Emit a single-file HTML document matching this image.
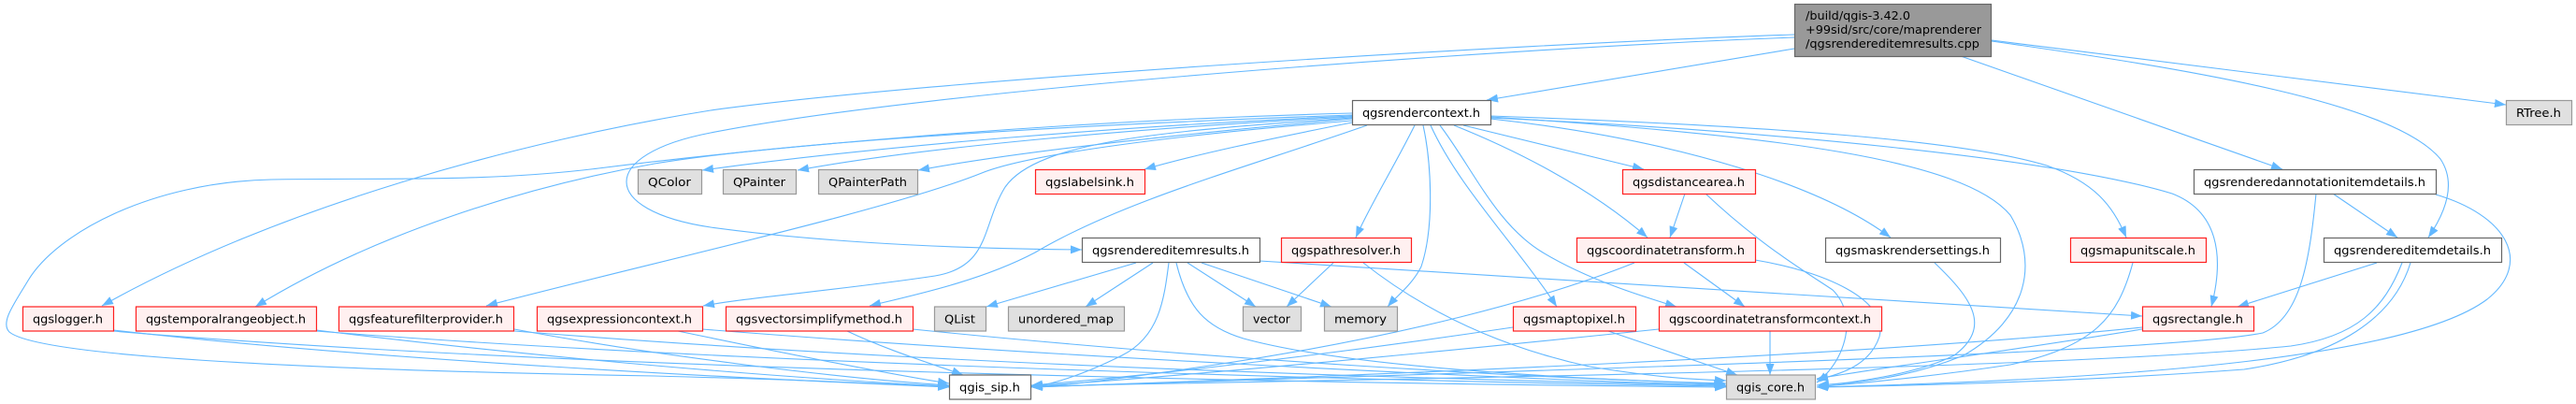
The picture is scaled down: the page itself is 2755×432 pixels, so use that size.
<!DOCTYPE html>
<html><head><meta charset="utf-8"><style>
html,body{margin:0;padding:0;background:#fff;}
svg{display:block;}
text{font-family:"DejaVu Sans","Liberation Sans",sans-serif;font-size:12.8px;fill:#000;}
.e{fill:none;stroke:#63b8ff;stroke-width:1.1;marker-end:url(#a);}
.w{fill:#fff;stroke:#666;stroke-width:1.2;}
.g{fill:#e0e0e0;stroke:#999;stroke-width:1.2;}
.r{fill:#fff0f0;stroke:#ff2020;stroke-width:1.2;}
</style></head><body>
<svg width="2755" height="432" viewBox="0 0 2755 432" xmlns="http://www.w3.org/2000/svg">
<defs><marker id="a" markerUnits="userSpaceOnUse" markerWidth="12" markerHeight="9" refX="12" refY="4.5" orient="auto"><path d="M0,0 L12,4.5 L0,9 z" fill="#63b8ff"/></marker></defs>
<rect width="2755" height="432" fill="#fff"/>
<g>
<!-- root edges -->
<path class="e" d="M1919,52 L1590,107"/>
<path class="e" d="M1919,37 C1600,48 1000,85 760,118 C560,150 300,220 109,327"/>
<path class="e" d="M1919,40 C1600,52 1000,95 760,142 C640,165 640,225 760,243 C900,262 1050,266 1157,267"/>
<path class="e" d="M2097,60 L2441,181"/>
<path class="e" d="M2130,44 C2350,75 2560,110 2610,170 C2630,200 2610,235 2597,254"/>
<path class="e" d="M2130,43 L2680,112"/>
<!-- qgsrendercontext edges -->
<path class="e" d="M1446,124 C1200,135 950,155 751,182"/>
<path class="e" d="M1446,125 C1250,135 1000,155 853,182"/>
<path class="e" d="M1446,127 C1300,140 1100,160 982,182"/>
<path class="e" d="M1446,131 C1350,150 1280,165 1224,181"/>
<path class="e" d="M1446,121 C1100,130 800,160 640,180 C520,195 400,190 290,192 C160,195 60,250 30,300 C15,325 0,345 10,355 C40,380 300,395 700,402 C850,406 950,410 1015,414"/>
<path class="e" d="M1446,123 C1100,135 820,155 700,175 C560,200 400,250 273,328"/>
<path class="e" d="M1446,129 C1250,145 1100,165 1050,185 C950,225 700,280 520,327"/>
<path class="e" d="M1446,126 C1250,140 1110,150 1075,200 C1050,240 1060,285 1000,295 C900,310 800,318 752,327"/>
<path class="e" d="M1462,134 C1330,180 1200,215 1107,270 C1050,300 980,315 930,327"/>
<path class="e" d="M1513,134 C1490,180 1465,220 1450,254"/>
<path class="e" d="M1522,134 C1530,170 1535,240 1520,285 C1510,305 1495,315 1484,328"/>
<path class="e" d="M1530,134 C1560,200 1620,260 1665,328"/>
<path class="e" d="M1540,134 C1575,180 1600,240 1650,270 C1700,300 1760,318 1793,328"/>
<path class="e" d="M1555,134 C1620,160 1700,200 1762,254"/>
<path class="e" d="M1565,134 L1758,181"/>
<path class="e" d="M1594,127 C1800,150 1950,200 2022,254"/>
<path class="e" d="M1594,125 C1900,145 2100,170 2150,230 C2180,280 2170,340 2100,380 C2040,405 1980,410 1944,412"/>
<path class="e" d="M1594,124 C1900,135 2100,150 2189,177 C2240,195 2260,220 2274,254"/>
<path class="e" d="M1594,126 C1900,140 2200,170 2323,207 C2370,225 2380,270 2365,328"/>
<!-- qgsrendereditemresults edges -->
<path class="e" d="M1215,281 L1055,328"/>
<path class="e" d="M1233,281 L1161,328"/>
<path class="e" d="M1250,281 C1245,320 1240,360 1200,380 C1160,400 1130,410 1103,414"/>
<path class="e" d="M1258,281 C1270,330 1290,350 1330,362 C1450,395 1700,405 1845,411"/>
<path class="e" d="M1270,281 L1343,328"/>
<path class="e" d="M1285,281 L1424,328"/>
<path class="e" d="M1347,279 C1600,295 2000,320 2291,338"/>
<!-- qgspathresolver -->
<path class="e" d="M1426,281 L1376,328"/>
<path class="e" d="M1458,281 C1520,330 1600,370 1700,392 C1780,405 1820,406 1846,407"/>
<!-- qgsdistancearea -->
<path class="e" d="M1802,207 L1786,254"/>
<path class="e" d="M1824,207 C1880,260 1930,290 1960,310 C1990,340 1970,390 1943,409"/>
<!-- qgscoordinatetransform -->
<path class="e" d="M1748,281 C1650,320 1500,360 1300,390 C1200,405 1140,412 1103,414"/>
<path class="e" d="M1801,281 L1866,328"/>
<path class="e" d="M1877,278 C1950,290 2020,320 2010,360 C2000,390 1970,400 1943,406"/>
<!-- qgsmaskrendersettings -->
<path class="e" d="M2069,281 C2110,320 2130,350 2090,380 C2050,400 1980,410 1943,412"/>
<!-- qgsmapunitscale -->
<path class="e" d="M2281,281 C2265,340 2240,370 2150,390 C2050,405 1980,410 1943,414"/>
<!-- qgsrenderedannotationitemdetails -->
<path class="e" d="M2495,207 L2564,254"/>
<path class="e" d="M2477,207 C2470,280 2460,340 2420,356 C2300,380 1500,400 1103,414"/>
<path class="e" d="M2605,208 C2680,230 2710,280 2660,320 C2580,380 2300,405 1943,414"/>
<!-- qgsrendereditemdetails -->
<path class="e" d="M2542,281 L2393,328"/>
<path class="e" d="M2569,281 C2550,330 2520,360 2450,370 C2200,395 1500,405 1103,413"/>
<path class="e" d="M2578,281 C2560,340 2500,380 2400,395 C2200,410 2000,413 1943,414"/>
<!-- qgsrectangle -->
<path class="e" d="M2291,352 C2150,375 2000,395 1943,405"/>
<path class="e" d="M2291,350 C2000,380 1500,400 1103,414"/>
<!-- qgsmaptopixel -->
<path class="e" d="M1618,350 C1450,375 1250,400 1103,412"/>
<path class="e" d="M1720,354 L1858,401"/>
<!-- qgscoordinatetransformcontext -->
<path class="e" d="M1893,354 L1893,401"/>
<path class="e" d="M1774,352 C1600,370 1300,400 1103,413"/>
<!-- bottom-left nodes -->
<path class="e" d="M906,354 C950,375 1000,390 1030,401"/>
<path class="e" d="M976,352 C1300,385 1650,405 1846,410"/>
<path class="e" d="M725,354 C850,380 950,400 1015,410"/>
<path class="e" d="M751,352 C1100,380 1600,405 1846,412"/>
<path class="e" d="M550,352 C700,380 900,405 1015,412"/>
<path class="e" d="M550,354 C1000,390 1500,405 1846,412"/>
<path class="e" d="M338,353 C600,385 850,405 1015,413"/>
<path class="e" d="M338,354 C800,390 1500,408 1846,413"/>
<path class="e" d="M121,353 C400,385 800,405 1015,414"/>
<path class="e" d="M121,354 C600,395 1400,410 1846,414"/>
</g>
<g>
<!-- root -->
<rect x="1919.5" y="4.5" width="210" height="56" fill="#999" stroke="#666" stroke-width="1.2"/>
<text x="1931" y="21" textLength="112" lengthAdjust="spacingAndGlyphs">/build/qgis-3.42.0</text>
<text x="1931" y="36" textLength="188" lengthAdjust="spacingAndGlyphs">+99sid/src/core/maprenderer</text>
<text x="1931" y="51" textLength="186" lengthAdjust="spacingAndGlyphs">/qgsrendereditemresults.cpp</text>

<rect class="w" x="1446.5" y="107.5" width="148" height="26"/>
<text x="1520" y="125" text-anchor="middle" textLength="126" lengthAdjust="spacingAndGlyphs">qgsrendercontext.h</text>
<rect class="g" x="2680.5" y="107.5" width="70" height="26"/>
<text x="2715" y="125" text-anchor="middle" textLength="48" lengthAdjust="spacingAndGlyphs">RTree.h</text>

<rect class="g" x="682.5" y="181.5" width="68" height="26"/>
<text x="716" y="199" text-anchor="middle" textLength="46" lengthAdjust="spacingAndGlyphs">QColor</text>
<rect class="g" x="773.5" y="181.5" width="78" height="26"/>
<text x="812" y="199" text-anchor="middle" textLength="56" lengthAdjust="spacingAndGlyphs">QPainter</text>
<rect class="g" x="875.5" y="181.5" width="106" height="26"/>
<text x="928" y="199" text-anchor="middle" textLength="84" lengthAdjust="spacingAndGlyphs">QPainterPath</text>
<rect class="r" x="1107.5" y="181.5" width="117" height="26"/>
<text x="1165.5" y="199" text-anchor="middle" textLength="95" lengthAdjust="spacingAndGlyphs">qgslabelsink.h</text>
<rect class="r" x="1735.5" y="181.5" width="142" height="26"/>
<text x="1806" y="199" text-anchor="middle" textLength="120" lengthAdjust="spacingAndGlyphs">qgsdistancearea.h</text>
<rect class="w" x="2346.5" y="181.5" width="259" height="26"/>
<text x="2475.5" y="199" text-anchor="middle" textLength="237" lengthAdjust="spacingAndGlyphs">qgsrenderedannotationitemdetails.h</text>

<rect class="w" x="1157.5" y="254.5" width="190" height="26"/>
<text x="1252" y="272" text-anchor="middle" textLength="168" lengthAdjust="spacingAndGlyphs">qgsrendereditemresults.h</text>
<rect class="r" x="1370.5" y="254.5" width="139" height="26"/>
<text x="1439.5" y="272" text-anchor="middle" textLength="117" lengthAdjust="spacingAndGlyphs">qgspathresolver.h</text>
<rect class="r" x="1686.5" y="254.5" width="191" height="26"/>
<text x="1781.5" y="272" text-anchor="middle" textLength="169" lengthAdjust="spacingAndGlyphs">qgscoordinatetransform.h</text>
<rect class="w" x="1952.5" y="254.5" width="187" height="26"/>
<text x="2045.5" y="272" text-anchor="middle" textLength="165" lengthAdjust="spacingAndGlyphs">qgsmaskrendersettings.h</text>
<rect class="r" x="2214.5" y="254.5" width="145" height="26"/>
<text x="2286.5" y="272" text-anchor="middle" textLength="123" lengthAdjust="spacingAndGlyphs">qgsmapunitscale.h</text>
<rect class="w" x="2485.5" y="254.5" width="190" height="26"/>
<text x="2580" y="272" text-anchor="middle" textLength="168" lengthAdjust="spacingAndGlyphs">qgsrendereditemdetails.h</text>

<rect class="r" x="24.5" y="328" width="97" height="26"/>
<text x="72.5" y="345.5" text-anchor="middle" textLength="75" lengthAdjust="spacingAndGlyphs">qgslogger.h</text>
<rect class="r" x="145.5" y="328" width="193" height="26"/>
<text x="241.5" y="345.5" text-anchor="middle" textLength="171" lengthAdjust="spacingAndGlyphs">qgstemporalrangeobject.h</text>
<rect class="r" x="362.5" y="328" width="187" height="26"/>
<text x="455.5" y="345.5" text-anchor="middle" textLength="165" lengthAdjust="spacingAndGlyphs">qgsfeaturefilterprovider.h</text>
<rect class="r" x="574.5" y="328" width="177" height="26"/>
<text x="662.5" y="345.5" text-anchor="middle" textLength="155" lengthAdjust="spacingAndGlyphs">qgsexpressioncontext.h</text>
<rect class="r" x="776.5" y="328" width="200" height="26"/>
<text x="876" y="345.5" text-anchor="middle" textLength="178" lengthAdjust="spacingAndGlyphs">qgsvectorsimplifymethod.h</text>
<rect class="g" x="999.5" y="328" width="55" height="26"/>
<text x="1026.5" y="345.5" text-anchor="middle" textLength="33" lengthAdjust="spacingAndGlyphs">QList</text>
<rect class="g" x="1078.5" y="328" width="124" height="26"/>
<text x="1140" y="345.5" text-anchor="middle" textLength="102" lengthAdjust="spacingAndGlyphs">unordered_map</text>
<rect class="g" x="1329.5" y="328" width="62" height="26"/>
<text x="1360" y="345.5" text-anchor="middle" textLength="40" lengthAdjust="spacingAndGlyphs">vector</text>
<rect class="g" x="1416.5" y="328" width="78" height="26"/>
<text x="1455" y="345.5" text-anchor="middle" textLength="56" lengthAdjust="spacingAndGlyphs">memory</text>
<rect class="r" x="1618.5" y="328" width="131" height="26"/>
<text x="1683.5" y="345.5" text-anchor="middle" textLength="109" lengthAdjust="spacingAndGlyphs">qgsmaptopixel.h</text>
<rect class="r" x="1774.5" y="328" width="238" height="26"/>
<text x="1893" y="345.5" text-anchor="middle" textLength="216" lengthAdjust="spacingAndGlyphs">qgscoordinatetransformcontext.h</text>
<rect class="r" x="2291.5" y="328" width="119" height="26"/>
<text x="2350.5" y="345.5" text-anchor="middle" textLength="97" lengthAdjust="spacingAndGlyphs">qgsrectangle.h</text>

<rect class="w" x="1015.5" y="401" width="87" height="26"/>
<text x="1058.5" y="418.5" text-anchor="middle" textLength="65" lengthAdjust="spacingAndGlyphs">qgis_sip.h</text>
<rect class="g" x="1846.5" y="401" width="95" height="26"/>
<text x="1893.5" y="418.5" text-anchor="middle" textLength="73" lengthAdjust="spacingAndGlyphs">qgis_core.h</text>
</g>
</svg>
</body></html>
